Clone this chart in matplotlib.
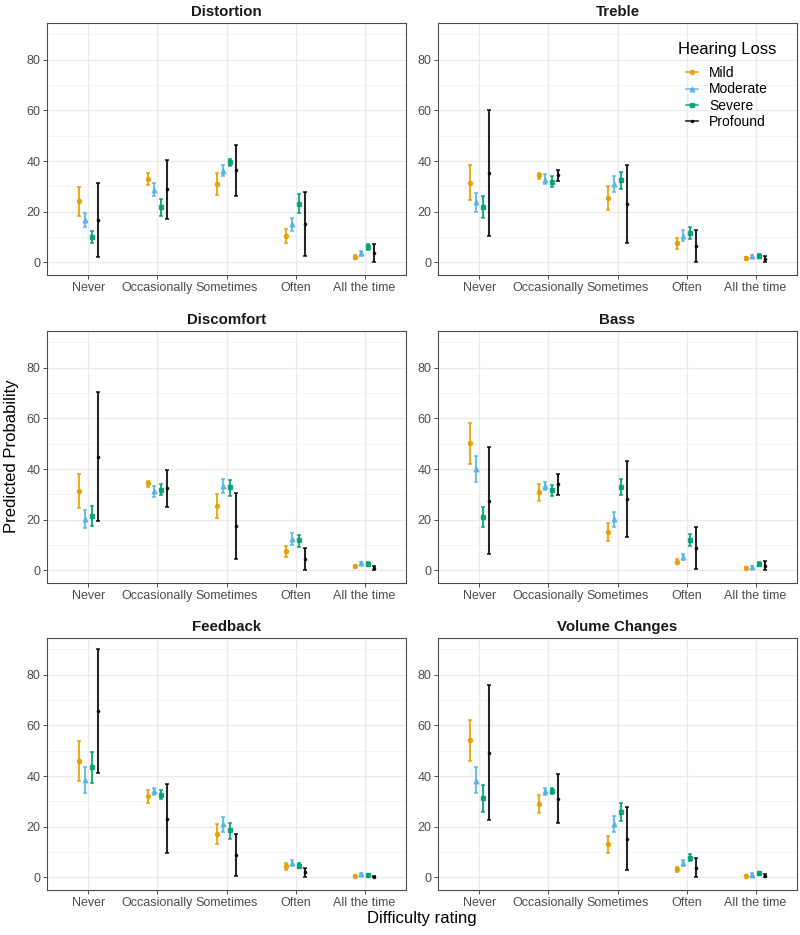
import numpy as np
import matplotlib
matplotlib.use('Agg')
import matplotlib.pyplot as plt
from matplotlib.lines import Line2D

plt.rcParams['font.family'] = ['Liberation Sans', 'DejaVu Sans']

# 数据：每个面板 4 组 (Mild, Moderate, Severe, Profound) x 5 个等级
categories = ['Never', 'Occasionally', 'Sometimes', 'Often', 'All the time']
groups = ['Mild', 'Moderate', 'Severe', 'Profound']
panel_titles = ['Distortion', 'Treble', 'Discomfort', 'Bass', 'Feedback', 'Volume Changes']

distortion_est = [[24.1, 32.9, 30.8, 10.5, 2.2], [16.7, 28.7, 36.2, 15.0, 3.6],
                  [10.1, 21.7, 39.5, 23.2, 6.1], [16.6, 28.9, 36.4, 15.3, 3.7]]
distortion_lo = [[18.2, 30.6, 26.5, 7.6, 1.4], [13.8, 26.2, 33.9, 12.3, 2.6],
                 [7.8, 18.4, 38.1, 19.4, 4.7], [2.0, 17.0, 26.0, 2.6, 0.0]]
distortion_hi = [[29.6, 35.2, 35.2, 13.2, 2.9], [19.5, 31.4, 38.5, 17.7, 4.3],
                 [12.4, 24.9, 40.8, 26.9, 7.4], [31.2, 40.3, 46.5, 27.9, 7.1]]

treble_est = [[31.5, 34.3, 25.6, 7.5, 1.6], [23.8, 32.7, 30.8, 10.5, 2.4],
              [21.7, 31.8, 32.7, 11.6, 2.4], [35.2, 34.4, 23.2, 6.6, 1.2]]
treble_lo = [[24.6, 32.9, 20.8, 5.3, 0.9], [19.8, 31.0, 27.7, 8.6, 1.7],
             [17.4, 29.6, 29.1, 9.1, 1.6], [10.3, 32.3, 7.6, 0.0, 0.0]]
treble_hi = [[38.3, 35.4, 30.0, 9.7, 2.2], [27.5, 34.7, 34.1, 12.8, 3.0],
             [26.0, 34.0, 35.7, 14.1, 3.2], [60.1, 36.4, 38.5, 12.9, 2.5]]

discomfort_est = [[31.4, 34.3, 25.6, 7.6, 1.6], [20.2, 31.2, 33.3, 12.4, 2.8],
                  [21.5, 31.9, 32.8, 11.9, 2.6], [44.8, 32.4, 17.5, 4.6, 0.9]]
discomfort_lo = [[24.6, 32.8, 20.8, 5.4, 0.9], [16.9, 29.1, 30.7, 10.1, 2.1],
                 [17.4, 29.6, 29.5, 9.4, 1.8], [19.5, 25.0, 4.6, 0.0, 0.1]]
discomfort_hi = [[38.2, 35.3, 30.0, 9.7, 2.1], [23.7, 33.2, 36.2, 14.6, 3.4],
                 [25.6, 34.0, 35.8, 14.1, 3.3], [70.4, 39.8, 30.6, 8.7, 1.7]]

bass_est = [[50.1, 30.8, 15.2, 3.4, 0.8], [39.9, 33.2, 20.2, 5.3, 1.3],
            [21.1, 31.6, 32.9, 12.0, 2.6], [27.4, 33.9, 28.2, 8.8, 1.8]]
bass_lo = [[42.0, 27.5, 11.5, 2.4, 0.4], [34.8, 31.6, 17.1, 4.2, 0.7],
           [17.0, 29.4, 29.6, 9.6, 1.8], [6.5, 29.6, 13.0, 0.7, 0.0]]
bass_hi = [[58.0, 33.9, 18.7, 4.6, 1.2], [45.2, 34.9, 23.2, 6.5, 1.8],
           [25.0, 33.7, 36.0, 14.4, 3.4], [48.7, 37.9, 43.2, 17.1, 3.8]]

feedback_est = [[45.9, 32.1, 17.2, 4.4, 0.7], [38.3, 33.9, 21.1, 5.5, 1.2],
                [43.4, 32.7, 18.5, 4.6, 0.8], [65.6, 23.2, 8.8, 2.0, 0.3]]
feedback_lo = [[38.0, 29.3, 13.1, 2.9, 0.3], [33.3, 32.7, 18.0, 4.4, 0.8],
               [37.2, 30.9, 15.0, 3.6, 0.3], [41.1, 9.5, 0.4, 0.0, 0.0]]
feedback_hi = [[53.7, 34.6, 21.0, 5.5, 1.0], [43.4, 35.1, 24.0, 6.7, 1.6],
               [49.4, 34.5, 21.5, 5.8, 1.3], [90.0, 36.8, 17.3, 3.8, 0.7]]

volume_est = [[54.1, 29.1, 13.2, 3.3, 0.5], [38.2, 34.0, 21.0, 5.8, 1.1],
              [31.2, 34.1, 25.7, 7.7, 1.6], [49.1, 31.0, 15.3, 3.7, 0.5]]
volume_lo = [[45.9, 25.4, 9.8, 2.0, 0.1], [33.2, 32.4, 17.9, 4.5, 0.7],
             [25.9, 32.8, 22.1, 6.3, 1.1], [22.5, 21.3, 3.0, 0.0, 0.0]]
volume_hi = [[62.2, 32.7, 16.5, 4.2, 0.9], [43.4, 35.3, 24.1, 7.0, 1.6],
             [36.4, 35.4, 29.2, 9.1, 2.0], [75.8, 40.7, 27.8, 7.5, 1.3]]

panels = [
    (distortion_est, distortion_lo, distortion_hi),
    (treble_est, treble_lo, treble_hi),
    (discomfort_est, discomfort_lo, discomfort_hi),
    (bass_est, bass_lo, bass_hi),
    (feedback_est, feedback_lo, feedback_hi),
    (volume_est, volume_lo, volume_hi),
]

colors = ['#E69F00', '#56B4E9', '#009E73', '#000000']
markers = ['o', '^', 's', 'o']
msizes = [3.0, 3.4, 3.0, 1.6]
offsets = [-0.135, -0.045, 0.045, 0.135]

W, H = 800, 935
fig = plt.figure(figsize=(W / 100, H / 100), dpi=100)

# 面板像素位置 (左, 上, 宽, 高)
col_x = [47, 438]
row_y = [23, 331, 638]
pw, ph = 359, 252

x = np.arange(1, len(categories) + 1)

for i, (est, lo, hi) in enumerate(panels):
    r, c = divmod(i, 2)
    left = col_x[c] / W
    bottom = 1 - (row_y[r] + ph) / H
    ax = fig.add_axes([left, bottom, pw / W, ph / H])

    for g in range(len(groups)):
        e = np.array(est[g])
        l = np.array(lo[g])
        h = np.array(hi[g])
        ax.errorbar(x + offsets[g], e, yerr=[e - l, h - e], fmt=markers[g],
                    color=colors[g], ms=msizes[g], elinewidth=1.5,
                    capsize=1.3, capthick=1.2, alpha=0.85, zorder=3)

    ax.set_xlim(0.4, 5.6)
    ax.set_ylim(-5.0, 94.5)
    ax.set_xticks(x)
    ax.set_xticklabels(categories)
    ax.set_yticks([0, 20, 40, 60, 80])
    ax.set_yticks([10, 30, 50, 70, 90], minor=True)
    ax.grid(True, which='major', color='#EBEBEB', lw=1.0, zorder=0)
    ax.grid(True, which='minor', axis='y', color='#F2F2F2', lw=0.6, zorder=0)
    ax.set_axisbelow(True)
    ax.tick_params(which='major', length=2.8, width=0.6, color='#333333',
                   labelsize=9, labelcolor='#4D4D4D', pad=2)
    ax.tick_params(which='minor', length=0)
    for s in ax.spines.values():
        s.set_color('#4D4D4D')
        s.set_linewidth(0.8)
    ax.set_title(panel_titles[i], fontsize=10.8, fontweight='bold',
                 color='#1A1A1A', pad=5)

    # 图例放在 Treble 面板内
    if i == 1:
        handles = [Line2D([0], [0], color=colors[g], marker=markers[g],
                          ms=msizes[g], lw=1.2, alpha=0.85) for g in range(4)]
        ax.legend(handles, groups, loc='upper left',
                  bbox_to_anchor=(0.671, 0.856), fontsize=10,
                  frameon=False, borderpad=0, handlelength=0.86,
                  handletextpad=0.8, labelspacing=0.16)
        ax.text(0.669, 0.895, 'Hearing Loss', transform=ax.transAxes,
                ha='left', va='center', fontsize=12)

fig.text(422 / W, 1 - 918 / H, 'Difficulty rating', ha='center', va='center',
         fontsize=12)
fig.text(12 / W, 1 - 456 / H, 'Predicted Probability', ha='center', va='center',
         rotation=90, fontsize=12)

fig.savefig('out.png', dpi=100)
